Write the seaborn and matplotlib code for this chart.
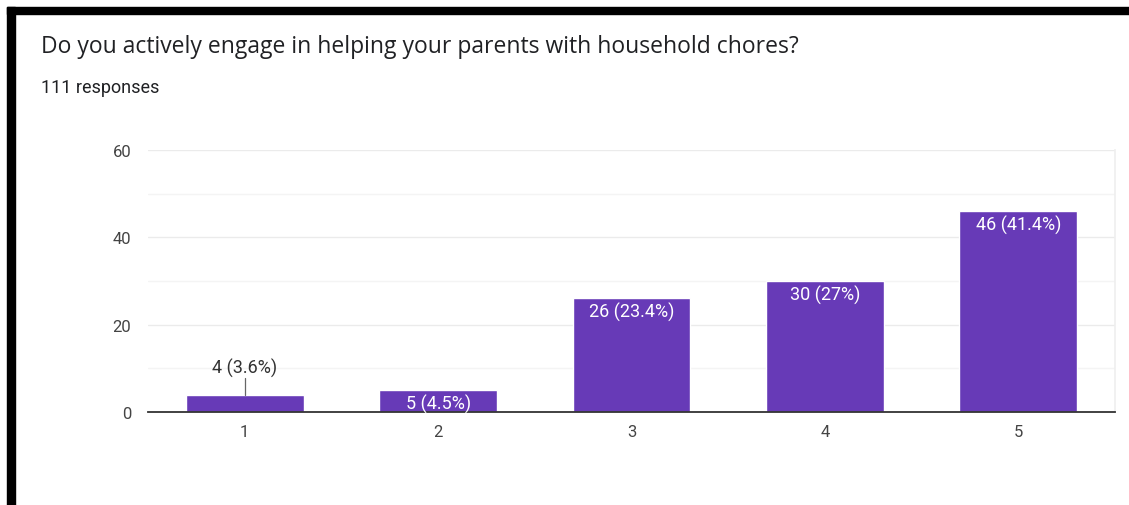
import matplotlib
matplotlib.use("Agg")
import matplotlib.pyplot as plt
from matplotlib.patches import Rectangle
import pandas as pd
import seaborn as sns

# Survey answers (1-5 scale) and response counts
ratings = ["1", "2", "3", "4", "5"]
counts = [4, 5, 26, 30, 46]
percents = ["3.6%", "4.5%", "23.4%", "27%", "41.4%"]
y_ticks = [0, 20, 40, 60]

title = "Do you actively engage in helping your parents with household chores?"
subtitle = "111 responses"

df = pd.DataFrame({"rating": ratings, "count": counts})

sns.set_theme(style="white")
plt.rcParams["font.family"] = ["Roboto", "DejaVu Sans"]

W, H = 1129, 506
fig = plt.figure(figsize=(W / 100, H / 100), dpi=100)
ax = fig.add_axes([148 / W, 1 - 413 / H, (1115 - 148) / W, (413 - 151) / H])

sns.barplot(data=df, x="rating", y="count", color="#673ab7", saturation=1,
            width=0.61, ax=ax, zorder=3)

ax.set_xlim(-0.5, 4.5)
ax.set_ylim(0, 60)
ax.set_yticks(y_ticks)
ax.set_yticks([10, 30, 50], minor=True)
ax.grid(axis="y", which="major", color="#ebebeb", linewidth=1.0, zorder=0)
ax.grid(axis="y", which="minor", color="#f4f4f4", linewidth=1.0, zorder=0)
ax.tick_params(axis="both", which="both", length=0, labelsize=12,
               colors="#444444")
ax.tick_params(axis="y", pad=12)
ax.tick_params(axis="x", pad=9)
ax.set_xlabel("")
ax.set_ylabel("")

for side in ["left", "top"]:
    ax.spines[side].set_visible(False)
ax.spines["right"].set_color("#efefef")
ax.spines["bottom"].set_color("#333333")
ax.spines["bottom"].set_linewidth(1.3)
ax.spines["bottom"].set_zorder(4)

# Value labels: inside the bar top, or above with a leader line for short bars
for i, (c, p) in enumerate(zip(counts, percents)):
    label = f"{c} ({p})"
    if c >= 5:
        ax.text(i, c - 0.8, label, ha="center", va="top", color="white",
                fontsize=13, zorder=5)
    else:
        ax.plot([i, i], [c, c + 3.8], color="#666666", linewidth=0.9, zorder=5)
        ax.text(i, c + 4.0, label, ha="center", va="bottom", color="#333333",
                fontsize=13, zorder=5)

fig.text(41 / W, 1 - 47 / H, title, ha="left", va="center", fontsize=16.5,
         color="#202124", family=["Open Sans", "DejaVu Sans"])
fig.text(41 / W, 1 - 88 / H, subtitle, ha="left", va="center", fontsize=13,
         color="#202124", family=["Roboto", "DejaVu Sans"])

# Black frame along the top and left edges
fig.patches.append(Rectangle((7 / W, 1 - 15 / H), 1 - 7 / W, 7 / H,
                             transform=fig.transFigure, color="black",
                             zorder=10))
fig.patches.append(Rectangle((7 / W, 0), 8 / W, 1 - 8 / H,
                             transform=fig.transFigure, color="black",
                             zorder=10))

fig.savefig("out.png", dpi=100, facecolor="white")
